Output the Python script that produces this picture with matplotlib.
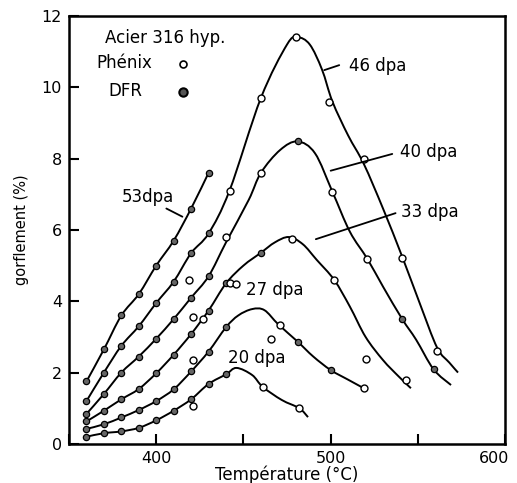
import matplotlib
matplotlib.use("Agg")
import matplotlib.pyplot as plt
from matplotlib.path import Path
from matplotlib.patches import PathPatch
from matplotlib.transforms import ScaledTranslation

plt.rcParams['font.family'] = ['DejaVu Sans']

# temperatures of the DFR points on the rising branches
t_dfr = [360, 370, 380, 390, 400, 410, 420, 430]

# swelling (%)
g53 = [1.75, 2.65, 3.6, 4.2, 5.0, 5.7, 6.6, 7.6]

g46 = [1.2, 2.0, 2.75, 3.3, 3.95, 4.55, 5.35, 5.9]
t46_tail = [442, 460, 475, 481, 488, 495, 501, 510, 519, 530, 541, 551, 561, 568, 573]
g46_tail = [7.1, 9.7, 11.2, 11.4, 11.2, 10.5, 9.6, 8.65, 7.85, 6.6, 5.25, 3.95, 2.7, 2.28, 2.0]

g40 = [0.84, 1.4, 2.0, 2.45, 2.95, 3.5, 4.1, 4.7]
t40_tail = [440, 453, 460, 471, 481, 491, 501, 511, 521, 530, 541, 549, 559, 569]
g40_tail = [5.65, 6.84, 7.6, 8.24, 8.48, 8.15, 7.07, 5.95, 5.19, 4.41, 3.5, 2.92, 2.09, 1.65]

g33 = [0.63, 0.93, 1.25, 1.54, 1.98, 2.5, 3.08, 3.74]
t33_tail = [440, 450, 460, 468, 476, 484, 492, 502, 511, 520, 530, 539, 546]
g33_tail = [4.5, 5.0, 5.36, 5.65, 5.8, 5.6, 5.16, 4.6, 3.85, 3.0, 2.35, 1.89, 1.56]

g27 = [0.42, 0.55, 0.74, 0.95, 1.2, 1.53, 2.03, 2.59]
t27_tail = [440, 447, 455, 462, 470, 481, 490, 500, 510, 519]
g27_tail = [3.27, 3.6, 3.78, 3.75, 3.35, 2.87, 2.45, 2.07, 1.8, 1.56]

g20 = [0.2, 0.3, 0.35, 0.45, 0.66, 0.93, 1.25, 1.68]
t20_tail = [440, 446, 455, 461, 472, 482, 487]
g20_tail = [1.95, 2.13, 1.93, 1.6, 1.23, 1.0, 0.75]

# extra DFR points beyond 430 C
dfr_t = [440, 440, 440, 460, 481, 541, 559, 481, 500]
dfr_g = [1.95, 3.27, 4.5, 5.36, 8.48, 3.5, 2.09, 2.87, 2.07]

# Phenix points (open symbols)
phx_t = [442, 460, 480, 499, 519, 541, 561,
         440, 460, 501, 521,
         421, 427, 442, 446, 478, 502, 520, 543,
         421, 466, 471, 519,
         421, 461, 482, 419]
phx_g = [7.1, 9.7, 11.4, 9.6, 8.0, 5.2, 2.6,
         5.8, 7.6, 7.07, 5.19,
         3.57, 3.5, 4.52, 4.48, 5.75, 4.6, 2.37, 1.79,
         2.34, 2.94, 3.32, 1.56,
         1.05, 1.6, 1.0, 4.6]

curves = [
    (g53, [], []),
    (g46, t46_tail, g46_tail),
    (g40, t40_tail, g40_tail),
    (g33, t33_tail, g33_tail),
    (g27, t27_tail, g27_tail),
    (g20, t20_tail, g20_tail),
]


def smooth_path(xs, ys):
    # catmull-rom through the points, drawn as cubic bezier segments
    pts = list(zip(xs, ys))
    verts = [pts[0]]
    codes = [Path.MOVETO]
    n = len(pts)
    for i in range(n - 1):
        p0 = pts[i - 1] if i > 0 else pts[i]
        p1 = pts[i]
        p2 = pts[i + 1]
        p3 = pts[i + 2] if i + 2 < n else pts[i + 1]
        c1 = (p1[0] + (p2[0] - p0[0]) / 6, p1[1] + (p2[1] - p0[1]) / 6)
        c2 = (p2[0] - (p3[0] - p1[0]) / 6, p2[1] - (p3[1] - p1[1]) / 6)
        verts += [c1, c2, p2]
        codes += [Path.CURVE4] * 3
    return Path(verts, codes)


fig = plt.figure(figsize=(5.17, 4.83), dpi=100)
ax = fig.add_axes([0.1335, 0.081, 0.8435, 0.886])

for g, tt, gt in curves:
    ax.add_patch(PathPatch(smooth_path(t_dfr + tt, g + gt), fc='none', ec='black', lw=1.4, zorder=2))
    ax.plot(t_dfr, g, ls='none', marker='o', ms=4.5, mfc='#666666', mec='black', mew=0.9, zorder=3)

ax.plot(dfr_t, dfr_g, ls='none', marker='o', ms=4.5, mfc='#666666', mec='black', mew=0.9, zorder=3)
ax.plot(phx_t, phx_g, ls='none', marker='o', ms=5, mfc='white', mec='black', mew=1.0, zorder=3)

# legend block
fs = 12
ax.text(370.5, 11.38, 'Acier 316 hyp.', fontsize=fs, va='center')
ax.text(365.8, 10.67, 'Phénix', fontsize=fs, va='center')
ax.text(372.5, 9.9, 'DFR', fontsize=fs, va='center')
ax.plot([0.262], [0.888], transform=ax.transAxes, marker='o', ms=5, mfc='white', mec='black', mew=1.2)
ax.plot([0.262], [0.823], transform=ax.transAxes, marker='o', ms=6, mfc='#555555', mec='black', mew=1.5)

# curve labels
line_kw = dict(arrowstyle='-', color='black', lw=1.3, shrinkA=0, shrinkB=0)
ax.annotate('', xy=(496.3, 10.48), xytext=(504.9, 10.62), arrowprops=line_kw)
ax.text(510.6, 10.6, '46 dpa', fontsize=fs, va='center')
ax.annotate('', xy=(500, 7.66), xytext=(535.3, 8.13), arrowprops=line_kw)
ax.text(540, 8.18, '40 dpa', fontsize=fs, va='center')
ax.annotate('', xy=(491.5, 5.74), xytext=(537.2, 6.47), arrowprops=line_kw)
ax.text(540.5, 6.51, '33 dpa', fontsize=fs, va='center')
ax.text(451.7, 4.32, '27 dpa', fontsize=fs, va='center')
ax.text(441, 2.4, '20 dpa', fontsize=fs, va='center')
ax.annotate('', xy=(415, 6.37), xytext=(405.8, 6.6), arrowprops=line_kw)
ax.text(380, 6.93, '53dpa', fontsize=fs, va='center')

ax.set_xlim(350, 600)
ax.set_ylim(0, 12)
ax.set_xticks([350, 400, 450, 500, 550, 600])
ax.set_xticklabels(['', '400', '', '500', '', '600'])
ax.set_yticks([0, 2, 4, 6, 8, 10, 12])
ax.tick_params(direction='in', length=7, width=1.5, labelsize=11.5, pad=5)
for s in ax.spines.values():
    s.set_linewidth(1.8)

# last x label sits a little left of the right edge, as in the original
last = ax.get_xticklabels()[-1]
last.set_transform(last.get_transform() + ScaledTranslation(-8 / 72, 0, fig.dpi_scale_trans))

ax.set_xlabel('Température (°C)', fontsize=12, labelpad=0)
ax.set_ylabel('gorflement (%)', fontsize=10.5, labelpad=9)

fig.savefig('out.png', dpi=100)
